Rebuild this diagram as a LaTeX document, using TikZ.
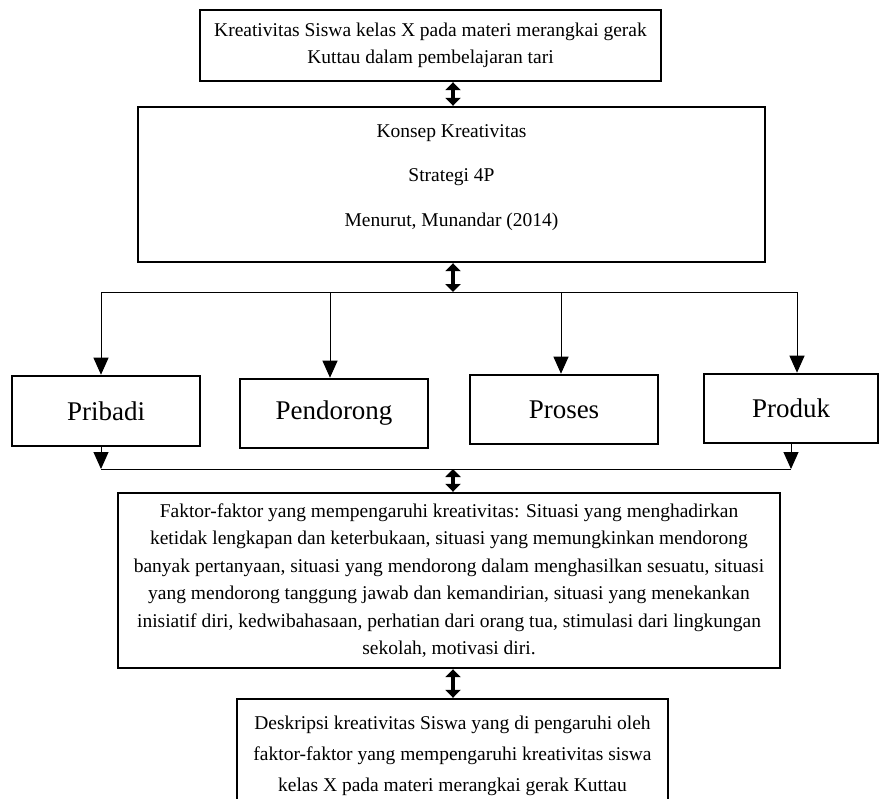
\documentclass[tikz,border=0pt]{standalone}
\usepackage{fontspec}
\setmainfont{Liberation Serif}
\usetikzlibrary{arrows.meta}
\begin{document}
\begin{tikzpicture}[x=1pt,y=-1pt,
  box/.style={draw, line width=2.4pt, align=center, inner sep=0pt, font=\fontsize{19.5}{27.5}\selectfont},
  pbox/.style={draw, line width=2.6pt, inner sep=0pt, minimum width=188pt, minimum height=70pt, font=\fontsize{27}{30}\selectfont},
  conn/.style={line width=1pt, -{Triangle[length=17pt,width=15pt]}},
  plainline/.style={line width=1pt},
  dbl/.style={line width=4.5pt, {Triangle[length=8pt,width=15pt]}-{Triangle[length=8pt,width=15pt]}}
]
\useasboundingbox (0,0) rectangle (881,798);
\clip (0,0) rectangle (881,798);
\fill[white] (0,0) rectangle (881,798);

\node[box, minimum width=461pt, minimum height=71pt] (b1) at (430.5,45.5)
  {Kreativitas Siswa kelas X pada materi merangkai gerak\\Kuttau dalam pembelajaran tari};
\node[box, minimum width=627pt, minimum height=155pt] (b2) at (451.5,184.5) {};
\node[align=center, inner sep=0pt, font=\fontsize{19.5}{44.5}\selectfont] (b2t) at (451.5,177.5)
  {Konsep Kreativitas\\Strategi 4P\\Menurut, Munandar (2014)};

\node[pbox] (p1) at (106,411) {Pribadi};
\node[pbox, minimum height=69pt] (p2) at (334,413.5) {Pendorong};
\node[pbox, minimum height=69pt] (p3) at (564,409.5) {Proses};
\node[pbox, minimum width=174pt, minimum height=69pt] (p4) at (791,408.5) {Produk};

\node[box, minimum width=662pt, minimum height=175pt] (b3) at (449,580.5)
  {Faktor-faktor yang mempengaruhi kreativitas: Situasi yang menghadirkan\\
   ketidak lengkapan dan keterbukaan, situasi yang memungkinkan mendorong\\
   banyak pertanyaan, situasi yang mendorong dalam menghasilkan sesuatu, situasi\\
   yang mendorong tanggung jawab dan kemandirian, situasi yang menekankan\\
   inisiatif diri, kedwibahasaan, perhatian dari orang tua, stimulasi dari lingkungan\\
   sekolah, motivasi diri.};

\node[box, minimum width=431pt, minimum height=114pt, font=\fontsize{19.5}{31}\selectfont] (b4) at (452.5,756)
  {Deskripsi kreativitas Siswa yang di pengaruhi oleh\\
   faktor-faktor yang mempengaruhi kreativitas siswa\\
   kelas X pada materi merangkai gerak Kuttau};

\coordinate (da) at (453,0);
\coordinate (hL) at (101,292);
\coordinate (h2) at (330,292);
\coordinate (h3) at (561,292);
\coordinate (hR) at (797,292);
\coordinate (lL) at (101,469);
\coordinate (lR) at (791,469);

\draw[dbl] (b1.south -| da) -- (b2.north -| da);
\draw[dbl] (b2.south -| da) -- (da |- hL);
\draw[plainline] (hL) -- (hR);
\draw[conn] (hL) -- (hL |- p1.north);
\draw[conn] (h2) -- (h2 |- p2.north);
\draw[conn] (h3) -- (h3 |- p3.north);
\draw[conn] (hR) -- (hR |- p4.north);
\draw[conn] (p1.south -| lL) -- (lL);
\draw[conn] (p4.south -| lR) -- (lR);
\draw[plainline] (lL) -- (lR);
\draw[dbl] (da |- lL) -- (b3.north -| da);
\draw[dbl] (b3.south -| da) -- (b4.north -| da);
\end{tikzpicture}
\end{document}
